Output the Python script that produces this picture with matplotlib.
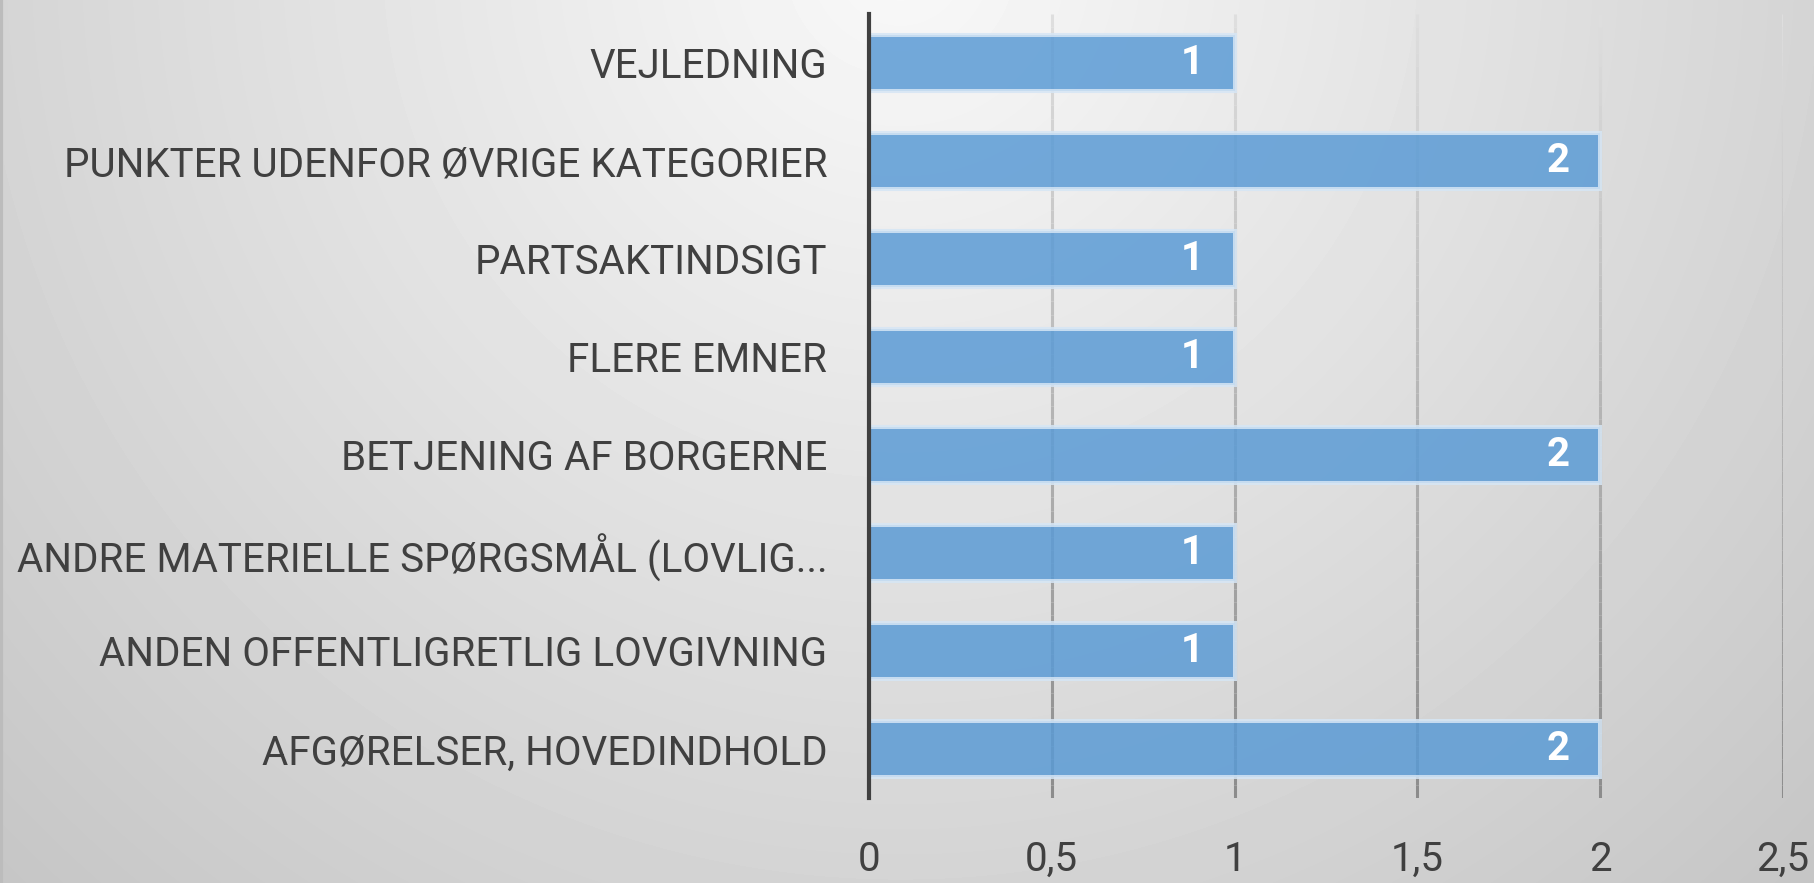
import numpy as np
import matplotlib.pyplot as plt
from matplotlib.collections import LineCollection

categories = ["AFGØRELSER, HOVEDINDHOLD",
              "ANDEN OFFENTLIGRETLIG LOVGIVNING",
              "ANDRE MATERIELLE SPØRGSMÅL (LOVLIG...",
              "BETJENING AF BORGERNE",
              "FLERE EMNER",
              "PARTSAKTINDSIGT",
              "PUNKTER UDENFOR ØVRIGE KATEGORIER",
              "VEJLEDNING"]
values = [2, 1, 1, 2, 1, 1, 2, 1]
xticks = [0, 0.5, 1, 1.5, 2, 2.5]
xtick_labels = ["0", "0,5", "1", "1,5", "2", "2,5"]

font = ["Roboto", "DejaVu Sans"]
text_color = "#404040"
fs = 29

W, H = 1814, 883
fig = plt.figure(figsize=(W / 100, H / 100), dpi=100)

# background gradient, brightest near the top centre
bg = fig.add_axes([0, 0, 1, 1], zorder=-10)
yy, xx = np.mgrid[0:H, 0:W]
r = np.hypot(xx - 900, yy + 40) / 900
shade = np.clip(0.975 - 0.14 * r, 0, 1)
bg.imshow(shade, cmap="gray", vmin=0, vmax=1, aspect="auto", extent=[0, 1, 0, 1])
bg.axvline(0.0008, color="#bcbcbc", lw=3)
bg.set_xlim(0, 1)
bg.set_ylim(0, 1)
bg.axis("off")

ax = fig.add_axes([869 / W, 1 - 798 / H, (1783 - 869) / W, (798 - 14) / H])
ax.set_facecolor("none")
ypos = np.arange(len(categories))

# vertical gridlines, lighter at the top and darker at the bottom
n = 60
ys = np.linspace(-0.5, 7.5, n + 1)
for xv in xticks[1:]:
    segs = [[(xv, ys[i]), (xv, ys[i + 1])] for i in range(n)]
    t = np.linspace(0, 1, n)
    g = 0.55 + 0.32 * t
    cols = [(c, c, c) for c in g]
    ax.add_collection(LineCollection(segs, colors=cols, linewidths=2.2, zorder=1))

ax.barh(ypos, values, height=0.57, color="#5b9bd5", alpha=0.85,
        edgecolor=(0.84, 0.9, 0.96, 0.8), linewidth=2.9, zorder=2)

for y, v in zip(ypos, values):
    ax.annotate(str(v), (v, y), xytext=(-22, 0), textcoords="offset points",
                ha="right", va="center", color="white", fontsize=fs,
                fontweight="bold", family=font, zorder=3)

ax.set_xlim(0, 2.5)
ax.set_ylim(-0.5, 7.5)
ax.set_xticks(xticks)
ax.set_xticklabels(xtick_labels, family=font, fontsize=fs, color=text_color)
ax.set_yticks(ypos)
ax.set_yticklabels(categories, family=font, fontsize=fs, color=text_color)
ax.tick_params(axis="x", length=0, pad=30)
ax.tick_params(axis="y", length=0, pad=30)
for s in ["top", "right", "bottom"]:
    ax.spines[s].set_visible(False)
ax.spines["left"].set_color("#404040")
ax.spines["left"].set_linewidth(3)
ax.spines["left"].set_zorder(4)

fig.savefig("out.png", dpi=100)
